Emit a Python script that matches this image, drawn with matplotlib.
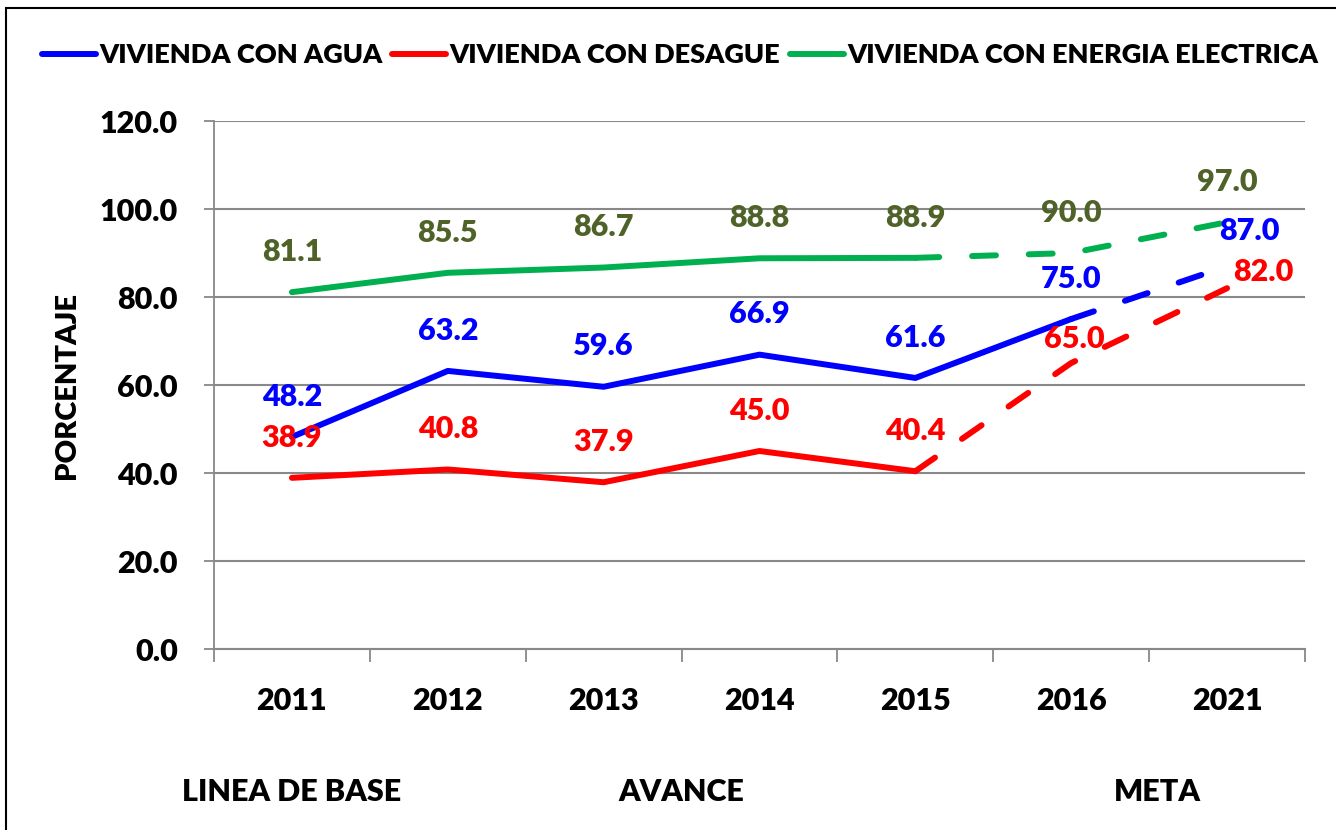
import matplotlib
matplotlib.use("Agg")
import matplotlib.pyplot as plt
from matplotlib.patches import Rectangle
from matplotlib.lines import Line2D

plt.rcParams['font.family'] = ['Lato', 'DejaVu Sans']
plt.rcParams['font.weight'] = 'heavy'
FW = 'heavy'

# datos
anios = ['2011', '2012', '2013', '2014', '2015', '2016', '2021']
agua = [48.2, 63.2, 59.6, 66.9, 61.6, 75.0, 87.0]
desague = [38.9, 40.8, 37.9, 45.0, 40.4, 65.0, 82.0]
energia = [81.1, 85.5, 86.7, 88.8, 88.9, 90.0, 97.0]
y_ticks = [0, 20, 40, 60, 80, 100, 120]
etapas = ['LINEA DE BASE', 'AVANCE', 'META']

c_agua, c_des, c_ene = '#0000FF', '#FF0000', '#00B050'
c_txt_ene = '#4F6228'

W, H = 1336, 830
fig = plt.figure(figsize=(W / 100, H / 100), dpi=100)
ax = fig.add_axes([214 / W, 1 - 649 / H, (1305 - 214) / W, (649 - 121) / H])

x = list(range(len(anios)))
lw = 4.3
kw_sol = dict(lw=lw, solid_capstyle='round', solid_joinstyle='round')
kw_das = dict(lw=lw, dashes=(4, 5.5), dash_capstyle='round')

# tramos continuos y proyectados
ax.plot(x[:6], agua[:6], color=c_agua, **kw_sol)
ax.plot(x[5:], agua[5:], color=c_agua, **kw_das)
ax.plot(x[:5], desague[:5], color=c_des, **kw_sol)
ax.plot(x[4:], desague[4:], color=c_des, **kw_das)
ax.plot(x[:5], energia[:5], color=c_ene, **kw_sol)
ax.plot(x[4:], energia[4:], color=c_ene, **kw_das)

# etiquetas de datos
def etiquetar(vals, color, especiales):
    for i, v in enumerate(vals):
        dx, dy = especiales.get(i, (0, 29))
        ax.annotate(f'{v:.1f}', (i, v), xytext=(dx, dy), textcoords='offset points',
                    ha='center', va='center', color=color, fontsize=22,
                    fontweight=FW)

etiquetar(agua, c_agua, {6: (16, 25)})
etiquetar(desague, c_des, {5: (2, 17), 6: (26, 12)})
etiquetar(energia, c_txt_ene, {})

ax.set_ylim(0, 120)
ax.set_yticks(y_ticks)
ax.set_yticklabels([f'{v:.1f}' for v in y_ticks], fontsize=22, fontweight=FW)
ax.set_xlim(-0.5, len(anios) - 0.5)
ax.set_xticks([i - 0.5 for i in range(len(anios) + 1)])
ax.set_xticklabels([])
ax.set_xticks(x, minor=True)
ax.set_xticklabels(anios, minor=True, fontsize=22, fontweight=FW)
ax.tick_params(axis='x', which='major', direction='out', length=9, width=1.3, color='#888888')
ax.tick_params(axis='x', which='minor', length=0, pad=27)
ax.tick_params(axis='y', direction='out', length=7, width=1.3, color='#888888', pad=19)

ax.grid(axis='y', color='#888888', lw=1.5)
ax.set_axisbelow(True)
for s in ['top', 'right']:
    ax.spines[s].set_visible(False)
ax.spines['left'].set_color('#888888')
ax.spines['bottom'].set_color('#888888')
ax.spines['left'].set_linewidth(1.3)
ax.spines['bottom'].set_linewidth(1.5)

ax.set_ylabel('PORCENTAJE', fontsize=21, fontweight=FW, labelpad=14)

# etapas debajo de los años
for etq, xc in zip(etapas, [0, 2.5, 5.55]):
    ax.text(xc, -0.27, etq, transform=ax.get_xaxis_transform(), ha='center',
            va='center', fontsize=22, fontweight=FW)

# leyenda
handles = [Line2D([], [], color=c, lw=lw, solid_capstyle='round') for c in (c_agua, c_des, c_ene)]
fig.legend(handles, ['VIVIENDA CON AGUA', 'VIVIENDA CON DESAGUE', 'VIVIENDA CON ENERGIA ELECTRICA'],
           loc='center', bbox_to_anchor=(680 / W, 1 - 55 / H), ncol=3, frameon=False,
           prop=dict(size=19.5, weight=FW), handlelength=2.0, handletextpad=0.12,
           columnspacing=0.35)

# marco
fig.patches.append(Rectangle((6 / W, -0.1), 1.1, 1.1 - 8 / H, transform=fig.transFigure,
                             fill=False, edgecolor='black', lw=1.5))

fig.savefig('out.png', dpi=100)
